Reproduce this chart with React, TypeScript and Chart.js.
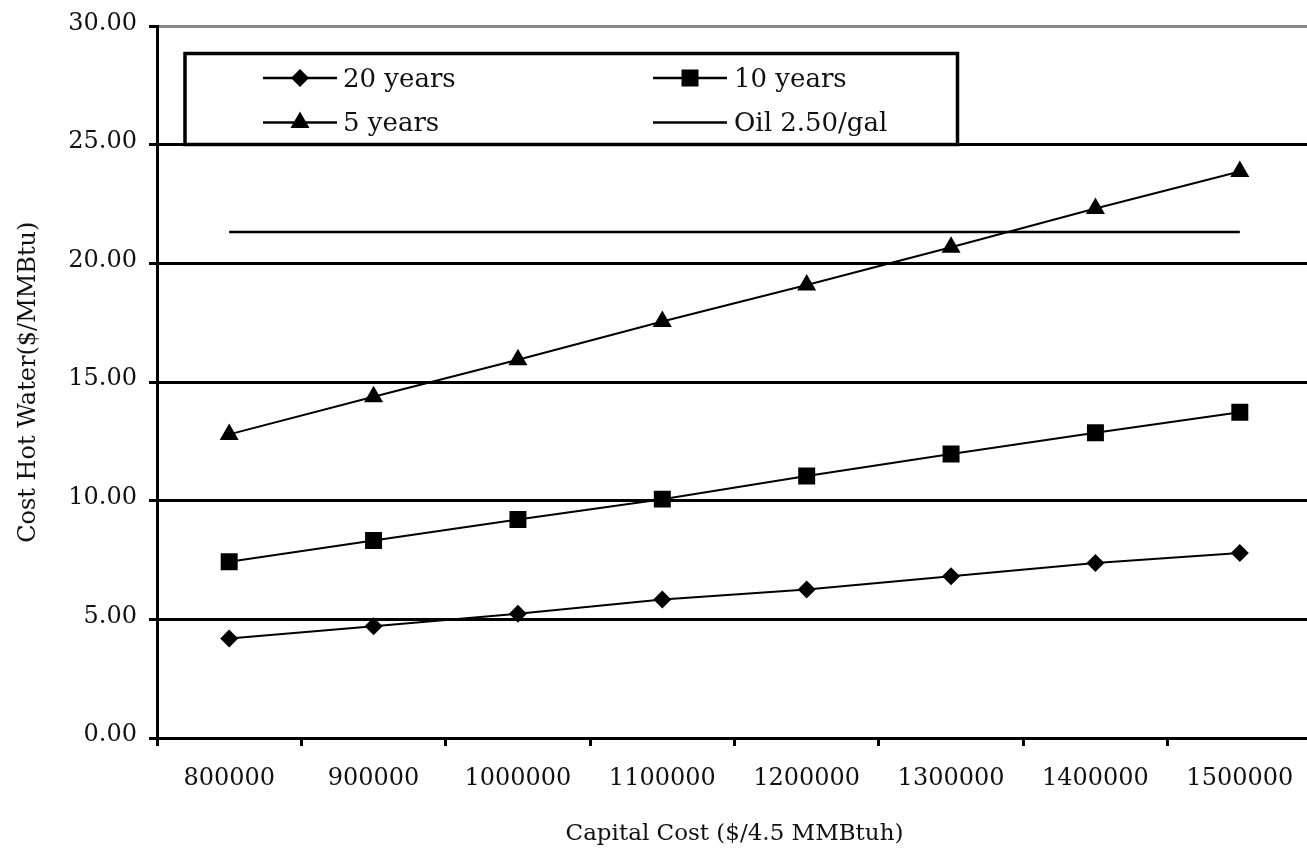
import React, { useEffect, useRef } from "react";
import { Chart, registerables } from "chart.js";

Chart.register(...registerables);

const categories = ["800000", "900000", "1000000", "1100000", "1200000", "1300000", "1400000", "1500000"];
const years20 = [4.19, 4.71, 5.24, 5.84, 6.26, 6.82, 7.38, 7.8];
const years10 = [7.43, 8.33, 9.21, 10.07, 11.05, 11.97, 12.87, 13.73];
const years5 = [12.8, 14.39, 15.95, 17.56, 19.1, 20.69, 22.32, 23.88];
const oil = [21.33, 21.33, 21.33, 21.33, 21.33, 21.33, 21.33, 21.33];
const yTicks = [0, 5, 10, 15, 20, 25, 30];

const FONT = "'DejaVu Serif', 'Liberation Serif', serif";
const TEXT = "#111";

type Marker = "rectRot" | "rect" | "triangle" | "none";

function drawMarker(ctx: CanvasRenderingContext2D, style: Marker, x: number, y: number) {
  ctx.beginPath();
  if (style === "rect") {
    ctx.rect(x - 8.5, y - 8.5, 17, 17);
  } else if (style === "rectRot") {
    const r = 9;
    ctx.moveTo(x - r, y);
    ctx.lineTo(x, y - r);
    ctx.lineTo(x + r, y);
    ctx.lineTo(x, y + r);
    ctx.closePath();
  } else if (style === "triangle") {
    const r = 11;
    for (let i = 0; i < 3; i++) {
      const a = (i * 2 * Math.PI) / 3;
      const px = x + Math.sin(a) * r;
      const py = y - Math.cos(a) * r;
      if (i === 0) ctx.moveTo(px, py);
      else ctx.lineTo(px, py);
    }
    ctx.closePath();
  } else {
    return;
  }
  ctx.fillStyle = "#000";
  ctx.fill();
}

const legendItems: { label: string; marker: Marker; col: number; row: number }[] = [
  { label: "20 years", marker: "rectRot", col: 0, row: 0 },
  { label: "5 years", marker: "triangle", col: 0, row: 1 },
  { label: "10 years", marker: "rect", col: 1, row: 0 },
  { label: "Oil 2.50/gal", marker: "none", col: 1, row: 1 },
];

const boxLegend = {
  id: "boxLegend",
  afterDatasetsDraw(chart: any) {
    const ctx: CanvasRenderingContext2D = chart.ctx;
    ctx.save();
    const bx = 185, by = 53.5, bw = 772.5, bh = 91;
    ctx.fillStyle = "#fff";
    ctx.fillRect(bx, by, bw, bh);
    ctx.lineWidth = 3.5;
    ctx.strokeStyle = "#000";
    ctx.strokeRect(bx, by, bw, bh);
    const lineStart = [263, 653];
    const lineEnd = [337, 727];
    const textX = [343, 734];
    const rowY = [78, 122.5];
    const baseY = [87, 131];
    ctx.font = `26px ${FONT}`;
    ctx.textBaseline = "alphabetic";
    ctx.textAlign = "left";
    for (const it of legendItems) {
      const y = rowY[it.row];
      ctx.beginPath();
      ctx.lineWidth = 2.5;
      ctx.strokeStyle = "#000";
      ctx.moveTo(lineStart[it.col], y);
      ctx.lineTo(lineEnd[it.col], y);
      ctx.stroke();
      drawMarker(ctx, it.marker, (lineStart[it.col] + lineEnd[it.col]) / 2, y);
      ctx.fillStyle = TEXT;
      ctx.fillText(it.label, textX[it.col], baseY[it.row]);
    }
    ctx.restore();
  },
};

export default function App() {
  const ref = useRef<HTMLCanvasElement | null>(null);

  useEffect(() => {
    if (!ref.current) return;
    const base = {
      borderColor: "#000",
      backgroundColor: "#000",
      borderWidth: 2,
      pointBackgroundColor: "#000",
      pointBorderColor: "#000",
      pointBorderWidth: 0,
      tension: 0,
      fill: false,
    };
    const chart = new Chart(ref.current, {
      type: "line",
      data: {
        labels: categories,
        datasets: [
          { ...base, label: "Oil 2.50/gal", data: oil, pointRadius: 0, borderWidth: 2.5 },
          { ...base, label: "20 years", data: years20, pointStyle: "rectRot", pointRadius: 9 },
          { ...base, label: "10 years", data: years10, pointStyle: "rect", pointRadius: 12 },
          { ...base, label: "5 years", data: years5, pointStyle: "triangle", pointRadius: 11 },
        ],
      },
      options: {
        animation: false,
        responsive: false,
        maintainAspectRatio: false,
        devicePixelRatio: 1,
        layout: { padding: { top: 24, right: 3, bottom: 0, left: 0 } },
        plugins: { legend: { display: false }, tooltip: { enabled: false } },
        scales: {
          x: {
            type: "category",
            offset: true,
            grid: {
              offset: true,
              drawOnChartArea: false,
              drawTicks: true,
              tickLength: 8,
              tickWidth: 3,
              tickColor: "#000",
            },
            border: { display: true, color: "#000", width: 3 },
            ticks: {
              font: { family: FONT, size: 24 },
              color: TEXT,
              padding: 18,
              maxRotation: 0,
              autoSkip: false,
            },
            title: {
              display: true,
              text: "Capital Cost ($/4.5 MMBtuh)",
              font: { family: FONT, size: 23 },
              color: TEXT,
              padding: { top: 0, bottom: 1 },
            },
            afterFit: (s: any) => {
              s.height = 111;
            },
          },
          y: {
            min: 0,
            max: 30,
            afterBuildTicks: (s: any) => {
              s.ticks = yTicks.map((v) => ({ value: v }));
            },
            ticks: {
              stepSize: 5,
              callback: (v: any) => Number(v).toFixed(2),
              padding: 12,
              labelOffset: -3,
              font: { family: FONT, size: 24 },
              color: TEXT,
            },
            grid: {
              color: (c: any) => (c.tick && c.tick.value === 30 ? "#888" : "#000"),
              lineWidth: 3,
              tickLength: 8,
              tickColor: "#000",
              tickWidth: 3,
            },
            border: { display: true, color: "#000", width: 3 },
            title: {
              display: true,
              text: "Cost Hot Water($/MMBtu)",
              font: { family: FONT, size: 24 },
              color: TEXT,
              padding: { top: 14, bottom: 0 },
            },
            afterFit: (s: any) => {
              s.width = 157;
            },
          },
        },
      },
      plugins: [boxLegend],
    });
    return () => chart.destroy();
  }, []);

  return (
    <div
      style={{
        position: "absolute",
        left: 0,
        top: 0,
        width: 1307,
        height: 849,
        overflow: "hidden",
        background: "#fff",
      }}
    >
      <canvas ref={ref} width={1324} height={849} style={{ width: 1324, height: 849, display: "block" }} />
    </div>
  );
}
